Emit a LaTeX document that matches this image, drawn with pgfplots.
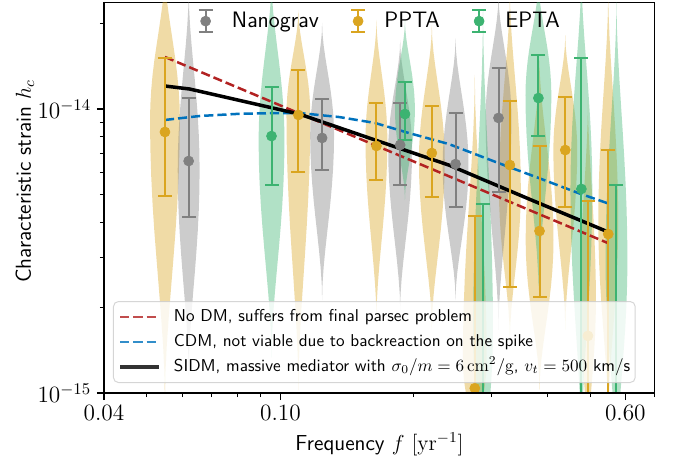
\RequirePackage{fix-cm}
\documentclass[border=0pt]{standalone}
\usepackage{fontspec}
\usepackage{pgfplots}
\usepackage{pgfplotstable}
\pgfplotsset{compat=1.18}
\renewcommand{\familydefault}{\sfdefault}

\definecolor{cgold}{RGB}{218,165,32}
\definecolor{cgray}{RGB}{128,128,128}
\definecolor{cgreen}{RGB}{60,179,113}
\definecolor{cred}{RGB}{178,34,34}
\definecolor{cblue}{RGB}{0,114,189}

% violin outline: #1 f, #2 half width (px), #3 step index, #4 side
\newcommand{\violinpt}[4]{%
  \pgfmathsetmacro\vu{#3/10}%
  \pgfmathsetmacro\vg{(1-(\vu)*(\vu))*(1-(\vu)*(\vu))}%
  \pgfmathsetmacro\vly{#3<0 ? (\vlm)+(\vu)*((\vlm)-(\vlb)) : (\vlm)+(\vu)*((\vlt)-(\vlm))}%
  \pgfmathsetmacro\vy{exp(\vly)}%
  \pgfmathsetmacro\vx{#1*exp(#4*(\vg)*#2*0.0051767)}%
  \xdef\vcoords{\vcoords (\vx,\vy e-15)}%
}
% #1 colour, #2 f, #3 bottom, #4 widest, #5 top (units of 1e-15), #6 half width (px)
\newcommand{\violin}[6]{%
  \pgfmathsetmacro\vlb{ln(#3)}%
  \pgfmathsetmacro\vlm{ln(#4)}%
  \pgfmathsetmacro\vlt{ln(#5)}%
  \gdef\vcoords{}%
  \foreach \i in {-10,...,10}{\violinpt{#2}{#6}{\i}{1}}%
  \foreach \i in {10,9,...,-10}{\violinpt{#2}{#6}{\i}{-1}}%
  \edef\vtmp{\noexpand\addplot[draw=none,fill=#1,fill opacity=0.4,forget plot] coordinates {\vcoords};}%
  \vtmp
}

\pgfplotstableread{
f h lo hi
0.0549 8.30e-15 4.94e-15 15.12e-15
0.1098 9.53e-15 6.00e-15 13.72e-15
0.1647 7.41e-15 5.62e-15 10.50e-15
0.2196 7.00e-15 4.90e-15 10.24e-15
0.2745 1.04e-15 0.30e-15 4.20e-15
0.3294 6.35e-15 2.36e-15 10.67e-15
0.3843 3.72e-15 2.18e-15 7.41e-15
0.4392 7.17e-15 4.52e-15 11.02e-15
0.4941 1.59e-15 0.30e-15 4.74e-15
0.5490 3.63e-15 0.30e-15 7.17e-15
}\ppta
\pgfplotstableread{
f h lo hi
0.0621 6.56e-15 4.17e-15 10.93e-15
0.1242 7.91e-15 6.10e-15 10.84e-15
0.1863 7.47e-15 5.40e-15 10.50e-15
0.2484 6.40e-15 4.52e-15 9.68e-15
0.3105 9.30e-15 5.10e-15 13.94e-15
}\nanograv
\pgfplotstableread{
f h lo hi
0.0955 8.03e-15 5.40e-15 11.95e-15
0.1910 9.60e-15 7.78e-15 12.45e-15
0.2865 0.40e-15 0.20e-15 4.63e-15
0.3820 10.93e-15 8.03e-15 15.49e-15
0.4775 5.23e-15 0.30e-15 15.12e-15
0.5730 0.40e-15 0.20e-15 5.40e-15
}\epta

\pgfplotsset{
  pta/.style={only marks, mark=*, color=#1, mark size=3pt,
    mark options={fill=#1, draw=#1},
    forget plot,
    error bars/.cd, y dir=both, y explicit,
    error bar style={line width=1.2pt, color=#1},
    error mark options={rotate=90, line width=1.2pt, mark size=4.2pt, color=#1}},
}

\begin{document}
\begin{tikzpicture}
\begin{axis}[
  name=main, at={(0,0)}, anchor=south west,
  scale only axis, width=330.6pt, height=234.6pt,
  xmode=log, ymode=log,
  xmin=0.04, xmax=0.7, ymin=1e-15, ymax=2.38e-14,
  xtick={0.04,0.1,0.6}, xticklabels={$0.04$,$0.10$,$0.60$},
  minor xtick={0.05,0.06,0.07,0.08,0.09,0.2,0.3,0.4,0.5,0.7},
  ytick={1e-15,1e-14}, yticklabels={$10^{-15}$,$10^{-14}$},
  minor ytick={2e-15,3e-15,4e-15,5e-15,6e-15,7e-15,8e-15,9e-15,2e-14},
  tick pos=left, tick align=outside,
  major tick length=4.2pt, minor tick length=2.4pt,
  major tick style={black, line width=0.8pt},
  minor tick style={black, line width=0.6pt},
  axis line style={line width=0.6pt},
  ticklabel style={font=\fontsize{14}{16}\selectfont},
  label style={font=\fontsize{13}{15}\selectfont},
  xlabel={Frequency $f\ [\mathrm{yr}^{-1}]$},
  ylabel={Characteristic strain $h_c$},
  y label style={at={(rel axis cs:-0.1434,0.542)}, anchor=center},
  legend style={at={(rel axis cs:0.0163,0.0256)}, anchor=south west,
    draw=black!20, line width=0.6pt, rounded corners=3pt,
    fill=white, fill opacity=0.8, text opacity=1, draw opacity=0.8,
    font=\fontsize{10.3}{12}\selectfont,
    inner xsep=3pt, inner ysep=4.3pt,
    nodes={inner sep=0pt, text height=7.5pt, text depth=2.5pt},
    row sep=5pt,
    /tikz/every odd column/.append style={column sep=7.8pt}},
  legend cell align=left,
  legend image code/.code={\draw[#1] (0pt,0pt) -- (23.4pt,0pt);},
]
% violins: PPTA
\violin{cgold}{0.0549}{0.945}{9.15}{30.86}{15}
\violin{cgold}{0.1098}{1.025}{9.53}{22.32}{12}
\violin{cgold}{0.1647}{1.807}{7.78}{20.58}{11}
\violin{cgold}{0.2196}{1.667}{6.61}{19.76}{13}
\violin{cgold}{0.2745}{0.63}{1.307}{13.18}{12}
\violin{cgold}{0.3294}{1.537}{5.19}{26.24}{11}
\violin{cgold}{0.3843}{1.025}{3.46}{14.88}{14}
\violin{cgold}{0.4392}{1.667}{7.17}{18.22}{12}
\violin{cgold}{0.4941}{0.63}{2.13}{10.76}{8}
\violin{cgold}{0.5490}{0.803}{4.0}{26.24}{10}
% Nanograv
\violin{cgray}{0.0621}{1.157}{6.10}{26.24}{11}
\violin{cgray}{0.1242}{2.126}{8.10}{20.09}{12}
\violin{cgray}{0.1863}{1.96}{7.17}{17.50}{12}
\violin{cgray}{0.2484}{2.126}{6.35}{17.78}{13}
\violin{cgray}{0.3105}{1.667}{9.30}{25.20}{13}
% EPTA
\violin{cgreen}{0.0955}{1.328}{7.78}{28.46}{13}
\violin{cgreen}{0.1910}{4.78}{9.92}{20.58}{10}
\violin{cgreen}{0.2865}{0.42}{1.667}{22.32}{10}
\violin{cgreen}{0.3820}{2.305}{11.20}{28.46}{13}
\violin{cgreen}{0.4775}{0.63}{5.19}{30.86}{11}
\violin{cgreen}{0.5730}{0.536}{2.94}{24.20}{11}

% model curves
\addplot[cred, line width=1.5pt, dash pattern=on 5.5pt off 2.4pt] coordinates {
 (0.0549,15.25e-15) (0.549,3.37e-15)};
\addlegendentry{No DM, suffers from final parsec problem}
\addplot[cblue, line width=1.5pt, dash pattern=on 5.5pt off 2.4pt] coordinates {
 (0.0549,9.15e-15) (0.0658,9.45e-15) (0.0809,9.62e-15) (0.0995,9.68e-15)
 (0.1103,9.68e-15) (0.1357,9.37e-15) (0.1635,8.93e-15) (0.195,8.23e-15)
 (0.2398,7.53e-15) (0.3107,6.45e-15) (0.3822,5.72e-15) (0.47,5.06e-15)
 (0.549,4.65e-15)};
\addlegendentry{CDM, not viable due to backreaction on the spike}
\addplot[black, line width=2.1pt] coordinates {
 (0.0549,12.05e-15) (0.0624,11.76e-15) (0.1103,9.60e-15) (0.1635,7.78e-15)
 (0.2398,6.35e-15) (0.3686,4.78e-15) (0.549,3.69e-15)};
\addlegendentry{SIDM, massive mediator with $\sigma_0/m=6\,\mathrm{cm}^2/\mathrm{g}$, $v_t=500$ km/s}

% data points with error bars
\addplot[pta=cgold] table[x=f, y=h, y error plus expr=\thisrow{hi}-\thisrow{h}, y error minus expr=\thisrow{h}-\thisrow{lo}] {\ppta};
\addplot[pta=cgray] table[x=f, y=h, y error plus expr=\thisrow{hi}-\thisrow{h}, y error minus expr=\thisrow{h}-\thisrow{lo}] {\nanograv};
\addplot[pta=cgreen] table[x=f, y=h, y error plus expr=\thisrow{hi}-\thisrow{h}, y error minus expr=\thisrow{h}-\thisrow{lo}] {\epta};
\end{axis}

% second (invisible) axis carrying the data-set legend
\begin{axis}[
  at={(0,0)}, anchor=south west,
  scale only axis, width=330.6pt, height=234.6pt,
  xmin=0, xmax=1, ymin=0, ymax=1, hide axis,
  legend columns=3,
  legend style={at={(rel axis cs:0.1693,0.951)}, anchor=west,
    draw=none, fill=none, inner sep=0pt,
    font=\fontsize{13.4}{15}\selectfont,
    nodes={inner sep=0pt},
    /tikz/every odd column/.append style={column sep=11pt},
    /tikz/every even column/.append style={column sep=18.8pt}},
  legend image code/.code={%
    \draw[#1,line width=1.2pt] (7pt,-6.6pt) -- (7pt,6.6pt);
    \draw[#1,line width=1.2pt] (2.8pt,-6.6pt) -- (11.2pt,-6.6pt);
    \draw[#1,line width=1.2pt] (2.8pt,6.6pt) -- (11.2pt,6.6pt);
    \fill[#1] (7pt,0pt) circle (3pt);},
]
\addlegendimage{cgray}\addlegendentry{Nanograv}
\addlegendimage{cgold}\addlegendentry{PPTA}
\addlegendimage{cgreen}\addlegendentry{EPTA}
\end{axis}

\draw[line width=1.2pt] (0pt,234.6pt) -- (0pt,0pt) -- (330.6pt,0pt);
\pgfresetboundingbox
\path (-62.4pt,-41.4pt) rectangle (341.4pt,235.8pt);
\end{tikzpicture}
\end{document}
